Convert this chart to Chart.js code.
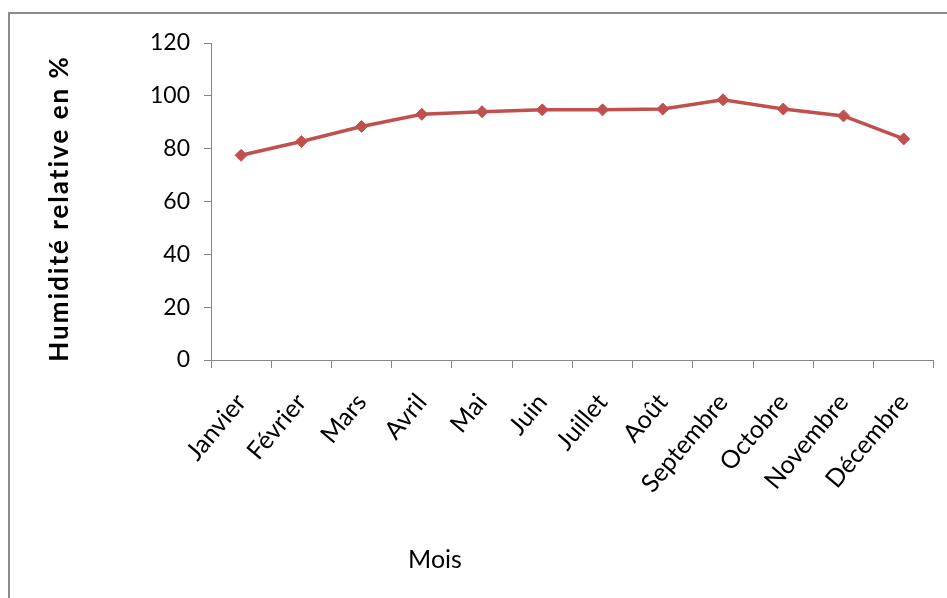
<!DOCTYPE html>
<html>
<head>
<meta charset="utf-8">
<script src="https://cdn.jsdelivr.net/npm/chart.js@4"></script>
<style>
  html, body { margin: 0; padding: 0; background: #fff; }
  #wrap { width: 947px; height: 598px; }
</style>
</head>
<body>
<div id="wrap"><canvas id="chart"></canvas></div>
<script>
const months = ['Janvier', 'Février', 'Mars', 'Avril', 'Mai', 'Juin', 'Juillet', 'Août', 'Septembre', 'Octobre', 'Novembre', 'Décembre'];
const humidity = [77.5, 82.7, 88.4, 93, 94, 94.7, 94.7, 95, 98.5, 95, 92.4, 83.7];
const yTicks = [0, 20, 40, 60, 80, 100, 120];
const yTitle = 'Humidité relative en %';
const xTitle = 'Mois';

const axisColor = '#868686';

// Outer frame (top and left edges only visible) and the two axis titles
const framePlugin = {
    id: 'frame',
    beforeDraw(chart) {
        const ctx = chart.ctx;
        ctx.save();
        ctx.strokeStyle = '#8c8c8c';
        ctx.lineWidth = 2;
        ctx.beginPath();
        ctx.moveTo(9, 598);
        ctx.lineTo(9, 13);
        ctx.lineTo(947, 13);
        ctx.stroke();
        ctx.restore();
    },
    afterDraw(chart) {
        const ctx = chart.ctx;
        const area = chart.chartArea;
        ctx.save();
        ctx.fillStyle = '#000';
        ctx.font = '25px Lato';
        ctx.textAlign = 'center';
        ctx.textBaseline = 'middle';
        ctx.fillText(xTitle, 435, 560);

        // y title, slightly letter-spaced like the original
        ctx.translate(60, (area.top + area.bottom) / 2 + 7);
        ctx.rotate(-Math.PI / 2);
        ctx.font = 'bold 26px Lato';
        ctx.letterSpacing = '2px';
        ctx.fillText(yTitle, 0, 0);
        ctx.restore();
    }
};

new Chart(document.getElementById('chart'), {
    type: 'line',
    data: {
        labels: months,
        datasets: [{
            data: humidity,
            borderColor: '#C0504D',
            backgroundColor: '#C0504D',
            borderWidth: 3.5,
            pointStyle: 'rectRot',
            pointRadius: 6,
            pointBorderWidth: 1,
            tension: 0
        }]
    },
    options: {
        responsive: true,
        maintainAspectRatio: false,
        animation: false,
        layout: { padding: { top: 43, left: 44, right: 3, bottom: 0 } },
        plugins: {
            legend: { display: false },
            tooltip: { enabled: false }
        },
        scales: {
            x: {
                offset: true,
                grid: {
                    offset: true,
                    drawOnChartArea: false,
                    tickLength: 8,
                    color: axisColor
                },
                border: { color: axisColor, width: 1 },
                ticks: {
                    autoSkip: false,
                    maxRotation: 50,
                    minRotation: 50,
                    color: '#000',
                    font: { family: 'Lato', size: 25 },
                    padding: 20
                },
                afterFit(scale) { scale.height = 238; }
            },
            y: {
                min: 0,
                max: 120,
                afterBuildTicks(scale) { scale.ticks = yTicks.map(v => ({ value: v })); },
                grid: {
                    drawOnChartArea: false,
                    tickLength: 7,
                    color: axisColor
                },
                border: { color: axisColor, width: 1 },
                ticks: {
                    color: '#000',
                    font: { family: 'Lato', size: 23 },
                    padding: 14
                },
                afterFit(scale) { scale.width = 211 - 44; }
            }
        }
    },
    plugins: [framePlugin]
});
</script>
</body>
</html>
